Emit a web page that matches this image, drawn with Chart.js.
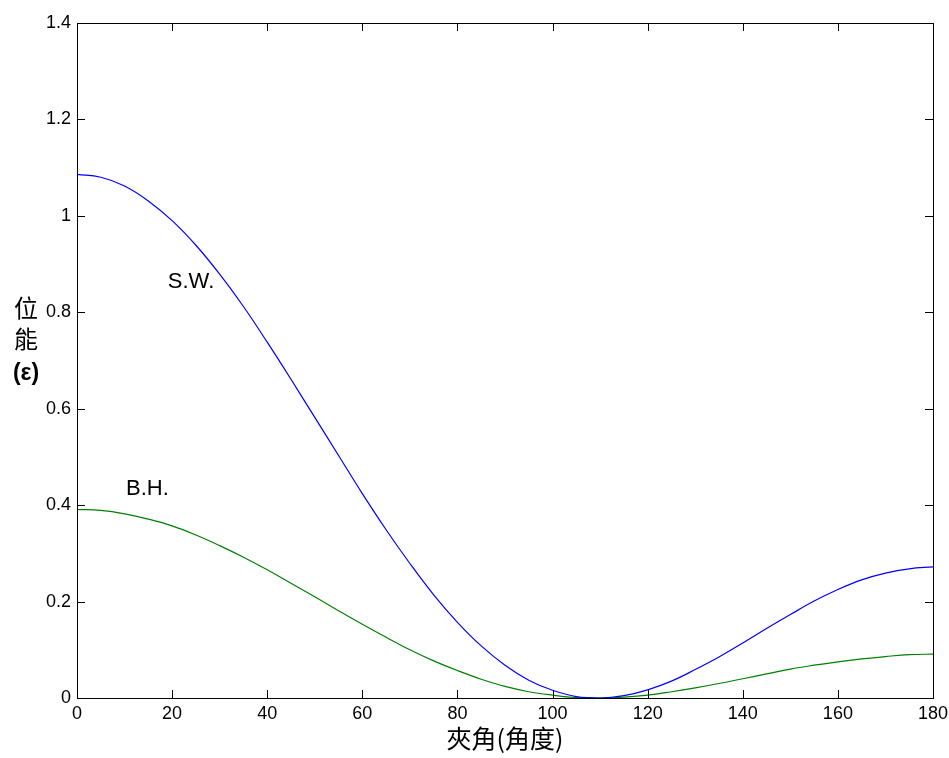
<!DOCTYPE html>
<html>
<head>
<meta charset="utf-8">
<script src="https://cdn.jsdelivr.net/npm/chart.js@4/dist/chart.umd.min.js"></script>
<style>
html, body { margin: 0; padding: 0; background: #fff; }
</style>
</head>
<body>
<canvas id="potChart" width="949" height="758"></canvas>
<script>
// bond angle (degrees)
const angles = [0, 5, 10, 15, 20, 25, 30, 35, 40, 45, 50, 55, 60, 65, 70, 75, 80, 85, 90,
    95, 100, 105, 110, 115, 120, 125, 130, 135, 140, 145, 150, 155, 160, 165, 170, 175, 180];

// S.W. three-body energy
const swValues = [1.086, 1.080, 1.062, 1.031, 0.990, 0.939, 0.879, 0.812, 0.738, 0.661,
    0.582, 0.503, 0.424, 0.349, 0.279, 0.214, 0.157, 0.108, 0.068, 0.037, 0.016, 0.003,
    0.000, 0.005, 0.017, 0.035, 0.059, 0.085, 0.114, 0.144, 0.173, 0.201, 0.225, 0.245,
    0.259, 0.268, 0.272];

// B.H. three-body energy
const bhValues = [0.391, 0.389, 0.382, 0.371, 0.357, 0.338, 0.316, 0.292, 0.266, 0.238,
    0.210, 0.181, 0.153, 0.126, 0.100, 0.077, 0.057, 0.039, 0.024, 0.013, 0.006, 0.001,
    0.000, 0.002, 0.006, 0.013, 0.021, 0.030, 0.040, 0.050, 0.060, 0.068, 0.075, 0.081,
    0.086, 0.090, 0.091];

const xTicks = [0, 20, 40, 60, 80, 100, 120, 140, 160, 180];
const yTicks = [0, 0.2, 0.4, 0.6, 0.8, 1, 1.2, 1.4];

// curve labels, placed in data units
const curveLabels = ['S.W.', 'B.H.'];
const curveLabelX = [19.1, 10.3];
const curveLabelY = [0.863, 0.434];

const yTitleLines = ['位', '能', '(ε)'];
const yTitleValues = [0.81, 0.745, 0.673];

Chart.defaults.font.family = '"Liberation Sans", Arial, sans-serif';
Chart.defaults.color = '#000';

function toPoints(values) {
    return angles.map((a, i) => ({ x: a, y: values[i] }));
}

// MATLAB style frame: box, inward ticks on every side, labels
const framePlugin = {
    id: 'framePlugin',
    afterDraw(chart) {
        const { ctx, chartArea: a, scales: { x, y } } = chart;
        const len = 8;
        ctx.save();
        ctx.strokeStyle = '#000';
        ctx.lineWidth = 1;
        ctx.strokeRect(a.left + 0.5, a.top + 0.5, a.right - a.left, a.bottom - a.top);

        ctx.beginPath();
        xTicks.forEach(v => {
            const px = Math.round(x.getPixelForValue(v)) + 0.5;
            ctx.moveTo(px, a.bottom); ctx.lineTo(px, a.bottom - len);
            ctx.moveTo(px, a.top); ctx.lineTo(px, a.top + len);
        });
        yTicks.forEach(v => {
            const py = Math.round(y.getPixelForValue(v)) + 0.5;
            ctx.moveTo(a.left, py); ctx.lineTo(a.left + len, py);
            ctx.moveTo(a.right, py); ctx.lineTo(a.right - len, py);
        });
        ctx.stroke();

        ctx.fillStyle = '#000';
        ctx.textBaseline = 'middle';
        ctx.textAlign = 'left';
        ctx.font = '22px "Liberation Sans", Arial, sans-serif';
        curveLabels.forEach((t, i) => {
            ctx.fillText(t, x.getPixelForValue(curveLabelX[i]), y.getPixelForValue(curveLabelY[i]));
        });

        ctx.textAlign = 'center';
        yTitleLines.forEach((t, i) => {
            ctx.font = i < 2 ? '24px "Noto Sans CJK TC", sans-serif'
                             : 'bold 23px "Liberation Sans", Arial, sans-serif';
            ctx.fillText(t, a.left - 51, y.getPixelForValue(yTitleValues[i]));
        });
        ctx.restore();
    }
};

const ctx = document.getElementById('potChart').getContext('2d');
new Chart(ctx, {
    type: 'line',
    data: {
        datasets: [{
            label: 'S.W.',
            data: toPoints(swValues),
            borderColor: '#0000ff',
            borderWidth: 1.2,
            pointRadius: 0,
            tension: 0.4
        }, {
            label: 'B.H.',
            data: toPoints(bhValues),
            borderColor: '#008000',
            borderWidth: 1.2,
            pointRadius: 0,
            tension: 0.4
        }]
    },
    options: {
        responsive: false,
        animation: false,
        layout: { padding: { top: 23, right: 16, bottom: 0, left: 0 } },
        plugins: {
            legend: { display: false },
            tooltip: { enabled: false }
        },
        scales: {
            x: {
                type: 'linear',
                min: 0,
                max: 180,
                afterBuildTicks: s => { s.ticks = xTicks.map(v => ({ value: v })); },
                afterFit: s => { s.height = 60; s.paddingLeft = 0; s.paddingRight = 0; },
                grid: { display: false, drawTicks: false },
                border: { display: false },
                ticks: {
                    font: { size: 18 },
                    padding: 5,
                    maxRotation: 0,
                    callback: v => String(v)
                },
                title: {
                    display: true,
                    text: '夾角(角度)',
                    font: { size: 25, family: '"Noto Sans CJK TC", sans-serif' },
                    padding: { top: 0, bottom: 5 }
                }
            },
            y: {
                min: 0,
                max: 1.4,
                afterBuildTicks: s => { s.ticks = yTicks.map(v => ({ value: v })); },
                afterFit: s => { s.width = 77; s.paddingTop = 0; s.paddingBottom = 0; },
                grid: { display: false, drawTicks: false },
                border: { display: false },
                ticks: {
                    font: { size: 18 },
                    padding: 6,
                    callback: v => String(v)
                }
            }
        }
    },
    plugins: [framePlugin]
});
</script>
</body>
</html>
